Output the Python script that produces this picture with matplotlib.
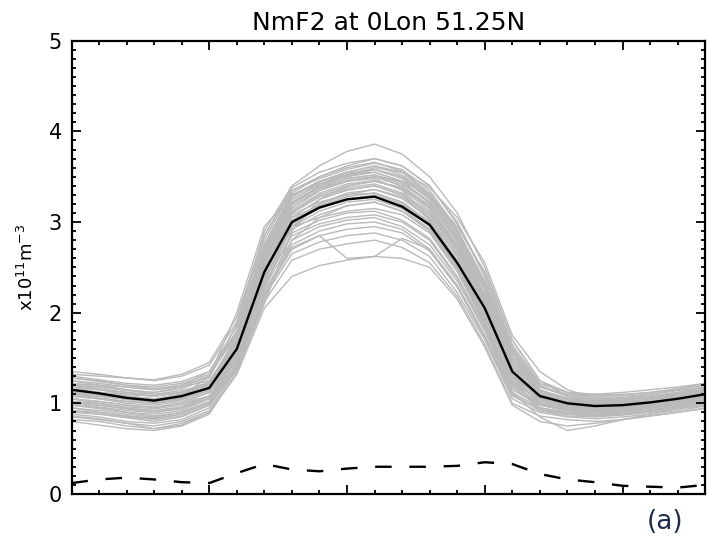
import numpy as np
import matplotlib
matplotlib.use("Agg")
import matplotlib.pyplot as plt
from matplotlib.ticker import MultipleLocator

# hourly NmF2 (x10^11 m^-3), 0..23 UT
hours = list(range(24))

mean_nmf2 = [1.15, 1.11, 1.06, 1.03, 1.08, 1.17, 1.60, 2.45, 3.00, 3.16, 3.25, 3.28,
             3.17, 2.97, 2.55, 2.05, 1.35, 1.08, 1.00, 0.97, 0.98, 1.01, 1.05, 1.10]

std_nmf2 = [0.12, 0.16, 0.18, 0.16, 0.13, 0.12, 0.23, 0.33, 0.27, 0.25, 0.28, 0.30,
            0.30, 0.30, 0.31, 0.35, 0.33, 0.22, 0.16, 0.13, 0.09, 0.08, 0.07, 0.10]

# individual days (grey lines)
members = [
    [1.32, 1.30, 1.28, 1.25, 1.30, 1.42, 1.90, 2.90, 3.40, 3.62, 3.78, 3.86, 3.75, 3.50, 3.10, 2.50, 1.70, 1.25, 1.12, 1.10, 1.12, 1.15, 1.18, 1.22],
    [1.25, 1.22, 1.18, 1.15, 1.20, 1.35, 1.85, 2.80, 3.35, 3.50, 3.62, 3.70, 3.62, 3.40, 2.98, 2.40, 1.62, 1.20, 1.08, 1.05, 1.06, 1.10, 1.14, 1.18],
    [1.20, 1.18, 1.15, 1.12, 1.18, 1.30, 1.80, 2.75, 3.30, 3.45, 3.55, 3.62, 3.55, 3.30, 2.88, 2.30, 1.55, 1.15, 1.05, 1.02, 1.03, 1.06, 1.10, 1.15],
    [1.28, 1.25, 1.20, 1.18, 1.22, 1.32, 1.75, 2.65, 3.25, 3.42, 3.50, 3.58, 3.48, 3.25, 2.85, 2.35, 1.58, 1.18, 1.10, 1.06, 1.06, 1.08, 1.12, 1.18],
    [1.10, 1.08, 1.05, 1.02, 1.06, 1.18, 1.70, 2.70, 3.28, 3.45, 3.52, 3.55, 3.45, 3.20, 2.80, 2.25, 1.45, 1.12, 1.04, 1.00, 1.01, 1.04, 1.08, 1.12],
    [1.18, 1.12, 1.08, 1.05, 1.10, 1.22, 1.68, 2.60, 3.20, 3.38, 3.48, 3.52, 3.42, 3.22, 2.78, 2.20, 1.45, 1.10, 1.02, 0.98, 0.99, 1.02, 1.06, 1.12],
    [1.05, 1.02, 0.98, 0.95, 1.00, 1.12, 1.62, 2.55, 3.15, 3.35, 3.45, 3.50, 3.40, 3.18, 2.75, 2.18, 1.40, 1.08, 1.00, 0.97, 0.98, 1.00, 1.05, 1.09],
    [1.22, 1.20, 1.15, 1.10, 1.12, 1.20, 1.60, 2.50, 3.12, 3.30, 3.40, 3.45, 3.38, 3.15, 2.72, 2.15, 1.38, 1.10, 1.02, 1.00, 1.00, 1.03, 1.08, 1.14],
    [1.12, 1.10, 1.05, 1.00, 1.05, 1.15, 1.58, 2.48, 3.10, 3.28, 3.38, 3.42, 3.32, 3.10, 2.68, 2.10, 1.35, 1.06, 0.98, 0.95, 0.96, 0.99, 1.03, 1.08],
    [1.00, 0.96, 0.92, 0.90, 0.95, 1.08, 1.55, 2.45, 3.05, 3.25, 3.35, 3.40, 3.30, 3.08, 2.65, 2.08, 1.32, 1.04, 0.96, 0.94, 0.95, 0.98, 1.02, 1.06],
    [1.15, 1.12, 1.10, 1.08, 1.12, 1.20, 1.62, 2.52, 3.08, 3.22, 3.30, 3.36, 3.28, 3.05, 2.62, 2.05, 1.30, 1.05, 0.98, 0.96, 0.97, 1.00, 1.05, 1.10],
    [0.95, 0.92, 0.88, 0.85, 0.90, 1.02, 1.50, 2.40, 3.02, 3.20, 3.30, 3.32, 3.22, 3.00, 2.58, 2.02, 1.28, 1.00, 0.94, 0.92, 0.93, 0.96, 1.00, 1.03],
    [1.08, 1.05, 1.00, 0.98, 1.02, 1.12, 1.55, 2.42, 2.98, 3.15, 3.25, 3.30, 3.20, 2.98, 2.55, 1.98, 1.25, 1.02, 0.95, 0.93, 0.94, 0.97, 1.01, 1.05],
    [1.25, 1.20, 1.18, 1.15, 1.18, 1.25, 1.65, 2.50, 3.05, 3.18, 3.26, 3.28, 3.18, 2.95, 2.52, 1.95, 1.28, 1.08, 1.02, 1.00, 1.02, 1.05, 1.10, 1.16],
    [0.90, 0.88, 0.85, 0.82, 0.86, 0.98, 1.45, 2.35, 2.95, 3.12, 3.22, 3.25, 3.15, 2.92, 2.50, 1.92, 1.22, 0.98, 0.92, 0.90, 0.92, 0.95, 0.98, 1.02],
    [1.02, 1.00, 0.95, 0.92, 0.96, 1.08, 1.52, 2.38, 2.92, 3.08, 3.18, 3.22, 3.12, 2.90, 2.48, 1.90, 1.20, 1.00, 0.93, 0.91, 0.92, 0.95, 0.99, 1.04],
    [1.18, 1.15, 1.12, 1.10, 1.14, 1.22, 1.58, 2.45, 2.95, 3.05, 3.12, 3.15, 3.08, 2.88, 2.45, 1.88, 1.22, 1.04, 0.98, 0.96, 0.98, 1.01, 1.06, 1.12],
    [0.88, 0.85, 0.80, 0.78, 0.82, 0.95, 1.42, 2.30, 2.88, 3.02, 3.10, 3.12, 3.02, 2.82, 2.40, 1.85, 1.18, 0.95, 0.90, 0.88, 0.90, 0.93, 0.96, 1.00],
    [1.10, 1.06, 1.02, 1.00, 1.04, 1.14, 1.50, 2.32, 2.85, 2.98, 3.05, 3.08, 3.00, 2.80, 2.38, 1.82, 1.15, 0.98, 0.92, 0.90, 0.92, 0.95, 1.00, 1.06],
    [0.98, 0.95, 0.90, 0.86, 0.90, 1.02, 1.45, 2.28, 2.80, 2.95, 3.02, 3.05, 2.95, 2.75, 2.35, 1.80, 1.12, 0.95, 0.90, 0.88, 0.89, 0.92, 0.96, 1.01],
    [0.85, 0.82, 0.78, 0.75, 0.80, 0.92, 1.38, 2.22, 2.75, 2.90, 2.98, 3.00, 2.92, 2.70, 2.30, 1.75, 1.10, 0.92, 0.86, 0.85, 0.87, 0.90, 0.94, 0.98],
    [1.05, 1.00, 0.96, 0.94, 0.98, 1.08, 1.48, 2.25, 2.72, 2.85, 2.92, 2.95, 2.88, 2.68, 2.28, 1.72, 1.08, 0.94, 0.88, 0.87, 0.88, 0.91, 0.96, 1.02],
    [0.92, 0.88, 0.84, 0.80, 0.85, 0.98, 1.40, 2.18, 2.65, 2.78, 2.85, 2.88, 2.80, 2.62, 2.22, 1.70, 1.05, 0.90, 0.85, 0.83, 0.85, 0.88, 0.92, 0.97],
    [0.80, 0.76, 0.72, 0.70, 0.75, 0.88, 1.35, 2.12, 2.58, 2.70, 2.76, 2.80, 2.72, 2.55, 2.18, 1.65, 1.00, 0.86, 0.82, 0.80, 0.82, 0.86, 0.90, 0.94],
    [1.00, 0.98, 0.94, 0.92, 0.95, 1.05, 1.42, 2.20, 2.70, 2.85, 2.60, 2.62, 2.82, 2.70, 2.30, 1.75, 1.10, 0.92, 0.88, 0.86, 0.88, 0.92, 0.96, 1.00],
    [0.86, 0.83, 0.78, 0.72, 0.76, 0.90, 1.32, 2.05, 2.40, 2.52, 2.58, 2.62, 2.60, 2.50, 2.15, 1.62, 0.98, 0.80, 0.75, 0.78, 0.82, 0.86, 0.90, 0.95],
    [1.15, 1.12, 1.08, 1.05, 1.10, 1.20, 1.65, 2.60, 3.20, 3.40, 3.52, 3.60, 3.55, 3.38, 3.05, 2.55, 1.75, 1.35, 1.15, 1.05, 1.03, 1.05, 1.10, 1.15],
    [1.08, 1.05, 1.02, 1.00, 1.04, 1.15, 1.60, 2.50, 3.10, 3.28, 3.36, 3.40, 3.30, 3.02, 2.50, 1.85, 1.12, 0.85, 0.70, 0.75, 0.82, 0.88, 0.94, 1.00],
    [1.20, 1.16, 1.12, 1.08, 1.12, 1.24, 1.72, 2.68, 3.25, 3.42, 3.52, 3.58, 3.50, 3.28, 2.85, 2.28, 1.50, 1.14, 1.06, 1.03, 1.04, 1.07, 1.11, 1.16],
    [1.12, 1.08, 1.04, 1.02, 1.06, 1.16, 1.66, 2.62, 3.22, 3.40, 3.48, 3.52, 3.44, 3.22, 2.82, 2.25, 1.48, 1.12, 1.04, 1.01, 1.02, 1.05, 1.09, 1.13],
    [1.30, 1.26, 1.22, 1.20, 1.24, 1.35, 1.80, 2.72, 3.28, 3.45, 3.55, 3.62, 3.52, 3.30, 2.90, 2.32, 1.55, 1.18, 1.10, 1.08, 1.08, 1.10, 1.15, 1.20],
    [0.95, 0.90, 0.86, 0.84, 0.88, 1.00, 1.52, 2.50, 3.12, 3.32, 3.42, 3.46, 3.36, 3.12, 2.70, 2.12, 1.36, 1.02, 0.95, 0.92, 0.93, 0.96, 1.00, 1.04],
    [1.10, 1.08, 1.05, 1.02, 1.08, 1.30, 2.00, 2.95, 3.30, 3.42, 3.50, 3.55, 3.45, 3.22, 2.80, 2.20, 1.42, 1.10, 1.02, 0.99, 1.00, 1.03, 1.07, 1.12],
    [1.05, 1.02, 0.98, 0.96, 1.00, 1.08, 1.35, 2.10, 2.90, 3.25, 3.40, 3.45, 3.38, 3.15, 2.72, 2.12, 1.35, 1.05, 0.97, 0.95, 0.96, 0.99, 1.03, 1.07],
    [1.12, 1.10, 1.06, 1.04, 1.08, 1.18, 1.62, 2.55, 3.15, 3.35, 3.45, 3.50, 3.45, 3.30, 2.95, 2.45, 1.70, 1.25, 1.08, 1.02, 1.01, 1.04, 1.08, 1.12],
    [1.18, 1.15, 1.10, 1.08, 1.12, 1.22, 1.70, 2.65, 3.22, 3.38, 3.45, 3.48, 3.35, 3.05, 2.55, 1.90, 1.18, 0.98, 0.92, 0.90, 0.92, 0.95, 1.00, 1.06],
    [1.35, 1.32, 1.28, 1.26, 1.32, 1.45, 1.95, 2.85, 3.38, 3.55, 3.65, 3.70, 3.62, 3.40, 3.00, 2.42, 1.65, 1.22, 1.12, 1.10, 1.10, 1.12, 1.16, 1.22],
    [0.82, 0.80, 0.75, 0.72, 0.78, 0.90, 1.40, 2.30, 2.95, 3.18, 3.28, 3.32, 3.22, 3.00, 2.58, 2.00, 1.25, 0.95, 0.88, 0.86, 0.88, 0.92, 0.95, 0.98],
    [1.22, 1.18, 1.14, 1.12, 1.16, 1.28, 1.88, 2.85, 3.35, 3.48, 3.58, 3.65, 3.58, 3.35, 2.92, 2.35, 1.58, 1.18, 1.08, 1.04, 1.05, 1.08, 1.12, 1.18],
    [0.92, 0.90, 0.86, 0.83, 0.88, 1.00, 1.38, 2.15, 2.80, 3.05, 3.18, 3.22, 3.12, 2.92, 2.52, 1.98, 1.28, 1.00, 0.92, 0.90, 0.90, 0.93, 0.97, 1.00],
    [1.28, 1.24, 1.20, 1.16, 1.20, 1.30, 1.78, 2.75, 3.32, 3.50, 3.60, 3.66, 3.56, 3.32, 2.90, 2.35, 1.60, 1.22, 1.12, 1.08, 1.09, 1.12, 1.16, 1.22],
    [1.02, 0.98, 0.94, 0.90, 0.94, 1.06, 1.60, 2.58, 3.18, 3.36, 3.46, 3.50, 3.40, 3.16, 2.74, 2.16, 1.40, 1.06, 0.97, 0.94, 0.95, 0.98, 1.02, 1.06],
    [1.14, 1.10, 1.06, 1.04, 1.08, 1.22, 1.75, 2.72, 3.28, 3.44, 3.54, 3.58, 3.50, 3.26, 2.84, 2.28, 1.52, 1.14, 1.05, 1.02, 1.03, 1.06, 1.10, 1.14],
    [0.98, 0.94, 0.90, 0.88, 0.92, 1.05, 1.48, 2.36, 2.98, 3.20, 3.32, 3.36, 3.26, 3.04, 2.62, 2.05, 1.30, 1.00, 0.93, 0.91, 0.92, 0.95, 0.99, 1.03],
]

title = "NmF2 at 0Lon 51.25N"
ylabel = r"x10$^{11}$m$^{-3}$"
panel = "(a)"

fig = plt.figure(figsize=(7.08, 5.44), dpi=100)
ax = fig.add_axes([0.101, 0.092, 0.895, 0.833])

for m in members:
    ax.plot(hours, m, color="#bababa", lw=1.0, zorder=1)
ax.plot(hours, mean_nmf2, color="black", lw=1.7, zorder=3)
ax.plot(hours, std_nmf2, color="black", lw=1.7, dashes=(7, 7.5), zorder=3)

ax.set_xlim(0, 23)
ax.set_ylim(0, 5)
ax.xaxis.set_major_locator(MultipleLocator(5))
ax.xaxis.set_minor_locator(MultipleLocator(1))
ax.yaxis.set_major_locator(MultipleLocator(1))
ax.yaxis.set_minor_locator(MultipleLocator(0.1))
ax.tick_params(which="both", direction="in", top=True, right=True,
               labelbottom=False, width=1.3)
ax.tick_params(which="major", length=6.5, labelsize=15, pad=7)
ax.tick_params(which="minor", length=3)
for s in ax.spines.values():
    s.set_linewidth(1.6)

ax.set_title(title, fontsize=18, pad=8)
ax.set_ylabel(ylabel, fontsize=13, labelpad=8)
fig.text(0.94, 0.04, panel, fontsize=19, color="#1f2d4a", ha="center", va="center")

fig.savefig("out.png", dpi=100)
